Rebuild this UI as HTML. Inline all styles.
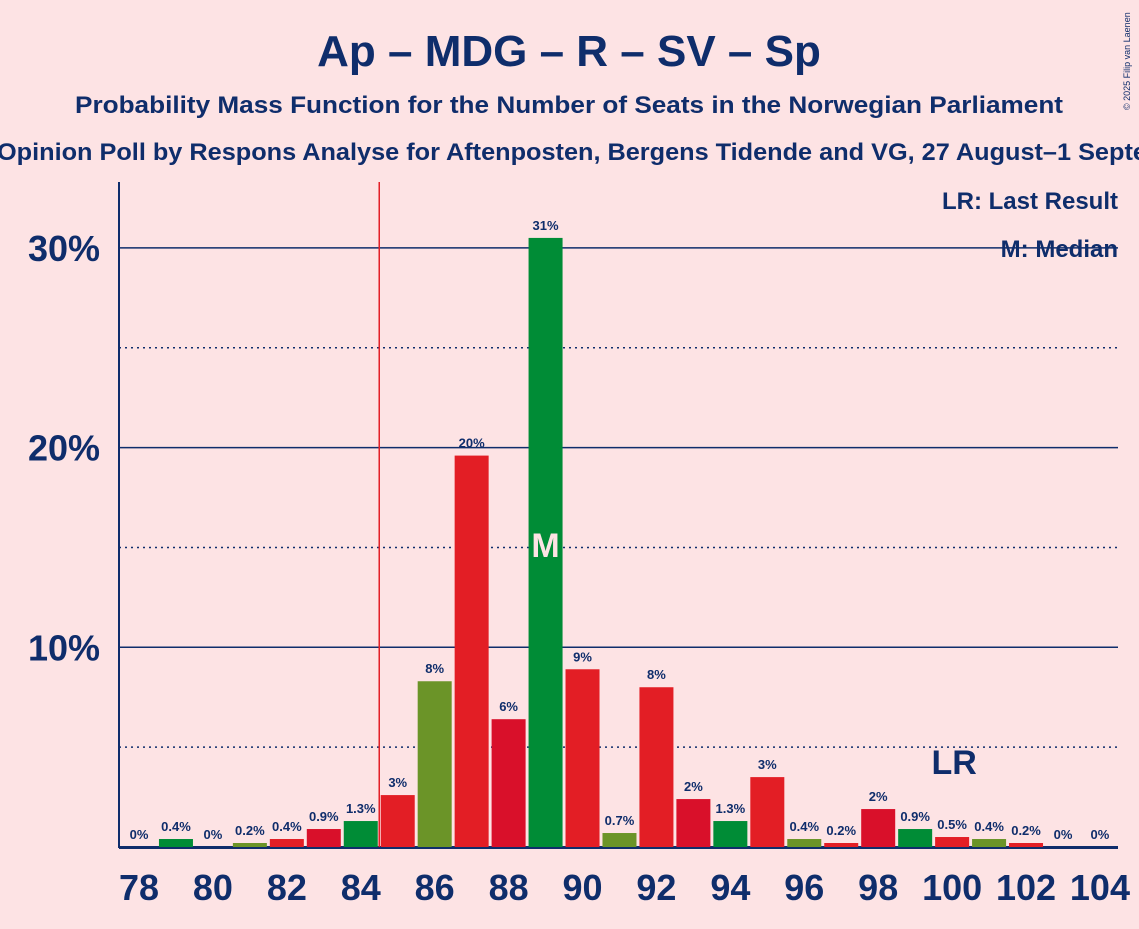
<!DOCTYPE html>
<html><head><meta charset="utf-8"><style>
body{margin:0;background:#fde3e4;font-family:"Liberation Sans",sans-serif;}
svg text{font-family:"Liberation Sans",sans-serif;fill:#0f2d6b;font-weight:bold;}
</style></head><body>
<svg id="c" width="1139" height="924">
<rect width="1139" height="924" fill="#fde3e4"/>
<text x="569" y="66" font-size="44" text-anchor="middle">Ap – MDG – R – SV – Sp</text>
<text x="75" y="113" font-size="24" textLength="988" lengthAdjust="spacingAndGlyphs">Probability Mass Function for the Number of Seats in the Norwegian Parliament</text>
<text x="-3" y="160" font-size="24" textLength="1275" lengthAdjust="spacingAndGlyphs">Opinion Poll by Respons Analyse for Aftenposten, Bergens Tidende and VG, 27 August–1 September 2025</text>
<text x="1130" y="110" font-size="9" transform="rotate(-90 1130 110)" style="font-weight:normal">© 2025 Filip van Laenen</text>
<g id="grid"></g><g id="bars"></g><g id="labels"></g>
<text x="1118" y="209" font-size="24" text-anchor="end">LR: Last Result</text>
<text x="1118" y="257" font-size="24" text-anchor="end">M: Median</text>
</svg>
<script>
const seats=[78,79,80,81,82,83,84,85,86,87,88,89,90,91,92,93,94,95,96,97,98,99,100,101,102,103,104];
const probs=[0,0.4,0,0.2,0.4,0.9,1.3,2.6,8.3,19.6,6.4,30.5,8.9,0.7,8.0,2.4,1.3,3.5,0.4,0.2,1.9,0.9,0.5,0.4,0.2,0,0];
const valueLabels=["0%","0.4%","0%","0.2%","0.4%","0.9%","1.3%","3%","8%","20%","6%","31%","9%","0.7%","8%","2%","1.3%","3%","0.4%","0.2%","2%","0.9%","0.5%","0.4%","0.2%","0%","0%"];
const colorKeys=["g","g","o","o","r","d","g","r","o","r","d","g","r","o","r","d","g","r","o","r","d","g","r","o","r","d","g"];
const yTicks=[10,20,30];
const yMinor=[5,15,25];
const lastResult=100, median=89;
const colors={g:"#008c36",o:"#6b9428",r:"#e31e25",d:"#d9102a"};
const ns="http://www.w3.org/2000/svg";
const X=s=>139+(s-78)*36.96, Y=p=>847-p*19.97;
function mk(t,a,parent){const e=document.createElementNS(ns,t);for(const k in a)e.setAttribute(k,a[k]);document.getElementById(parent).appendChild(e);return e;}
yMinor.forEach(v=>{const l=mk('line',{x1:119,x2:1118,y1:Y(v),y2:Y(v),stroke:'#0f2d6b','stroke-width':1.5,'stroke-dasharray':'2,4'},'grid');

});
yTicks.forEach(v=>{const l=mk('line',{x1:119,x2:1118,y1:Y(v),y2:Y(v),stroke:'#0f2d6b','stroke-width':1.5},'grid');


const t=mk('text',{x:100,y:Y(v)+13,'font-size':36,'text-anchor':'end'},'grid');t.textContent=v+'%';

});
const ax=mk('line',{x1:119,x2:119,y1:182,y2:848,stroke:'#0f2d6b','stroke-width':2},'grid');


seats.forEach((s,i)=>{const h=probs[i]*19.97;
const r=mk('rect',{x:X(s)-17,y:847-h,width:34,height:h,fill:colors[colorKeys[i]]},'bars');


const t=mk('text',{x:X(s),y:847-h-8,'font-size':13,'text-anchor':'middle'},'labels');t.textContent=valueLabels[i];


if(s%2===0){const xt=mk('text',{x:X(s),y:900,'font-size':36,'text-anchor':'middle'},'labels');xt.textContent=s;

}});
const xa=mk('line',{x1:119,x2:1118,y1:847.5,y2:847.5,stroke:'#0f2d6b','stroke-width':3},'grid');


const lr=mk('line',{x1:X(84.5),x2:X(84.5),y1:182,y2:847,stroke:'#e31e25','stroke-width':1.5},'labels');


const lrt=mk('text',{x:X(lastResult)+2,y:774,'font-size':34,'text-anchor':'middle'},'labels');lrt.textContent='LR';


const mt=mk('text',{x:X(median),y:557,'font-size':34,'text-anchor':'middle',style:'fill:#fde3e4'},'labels');mt.textContent='M';


</script>
</body></html>
